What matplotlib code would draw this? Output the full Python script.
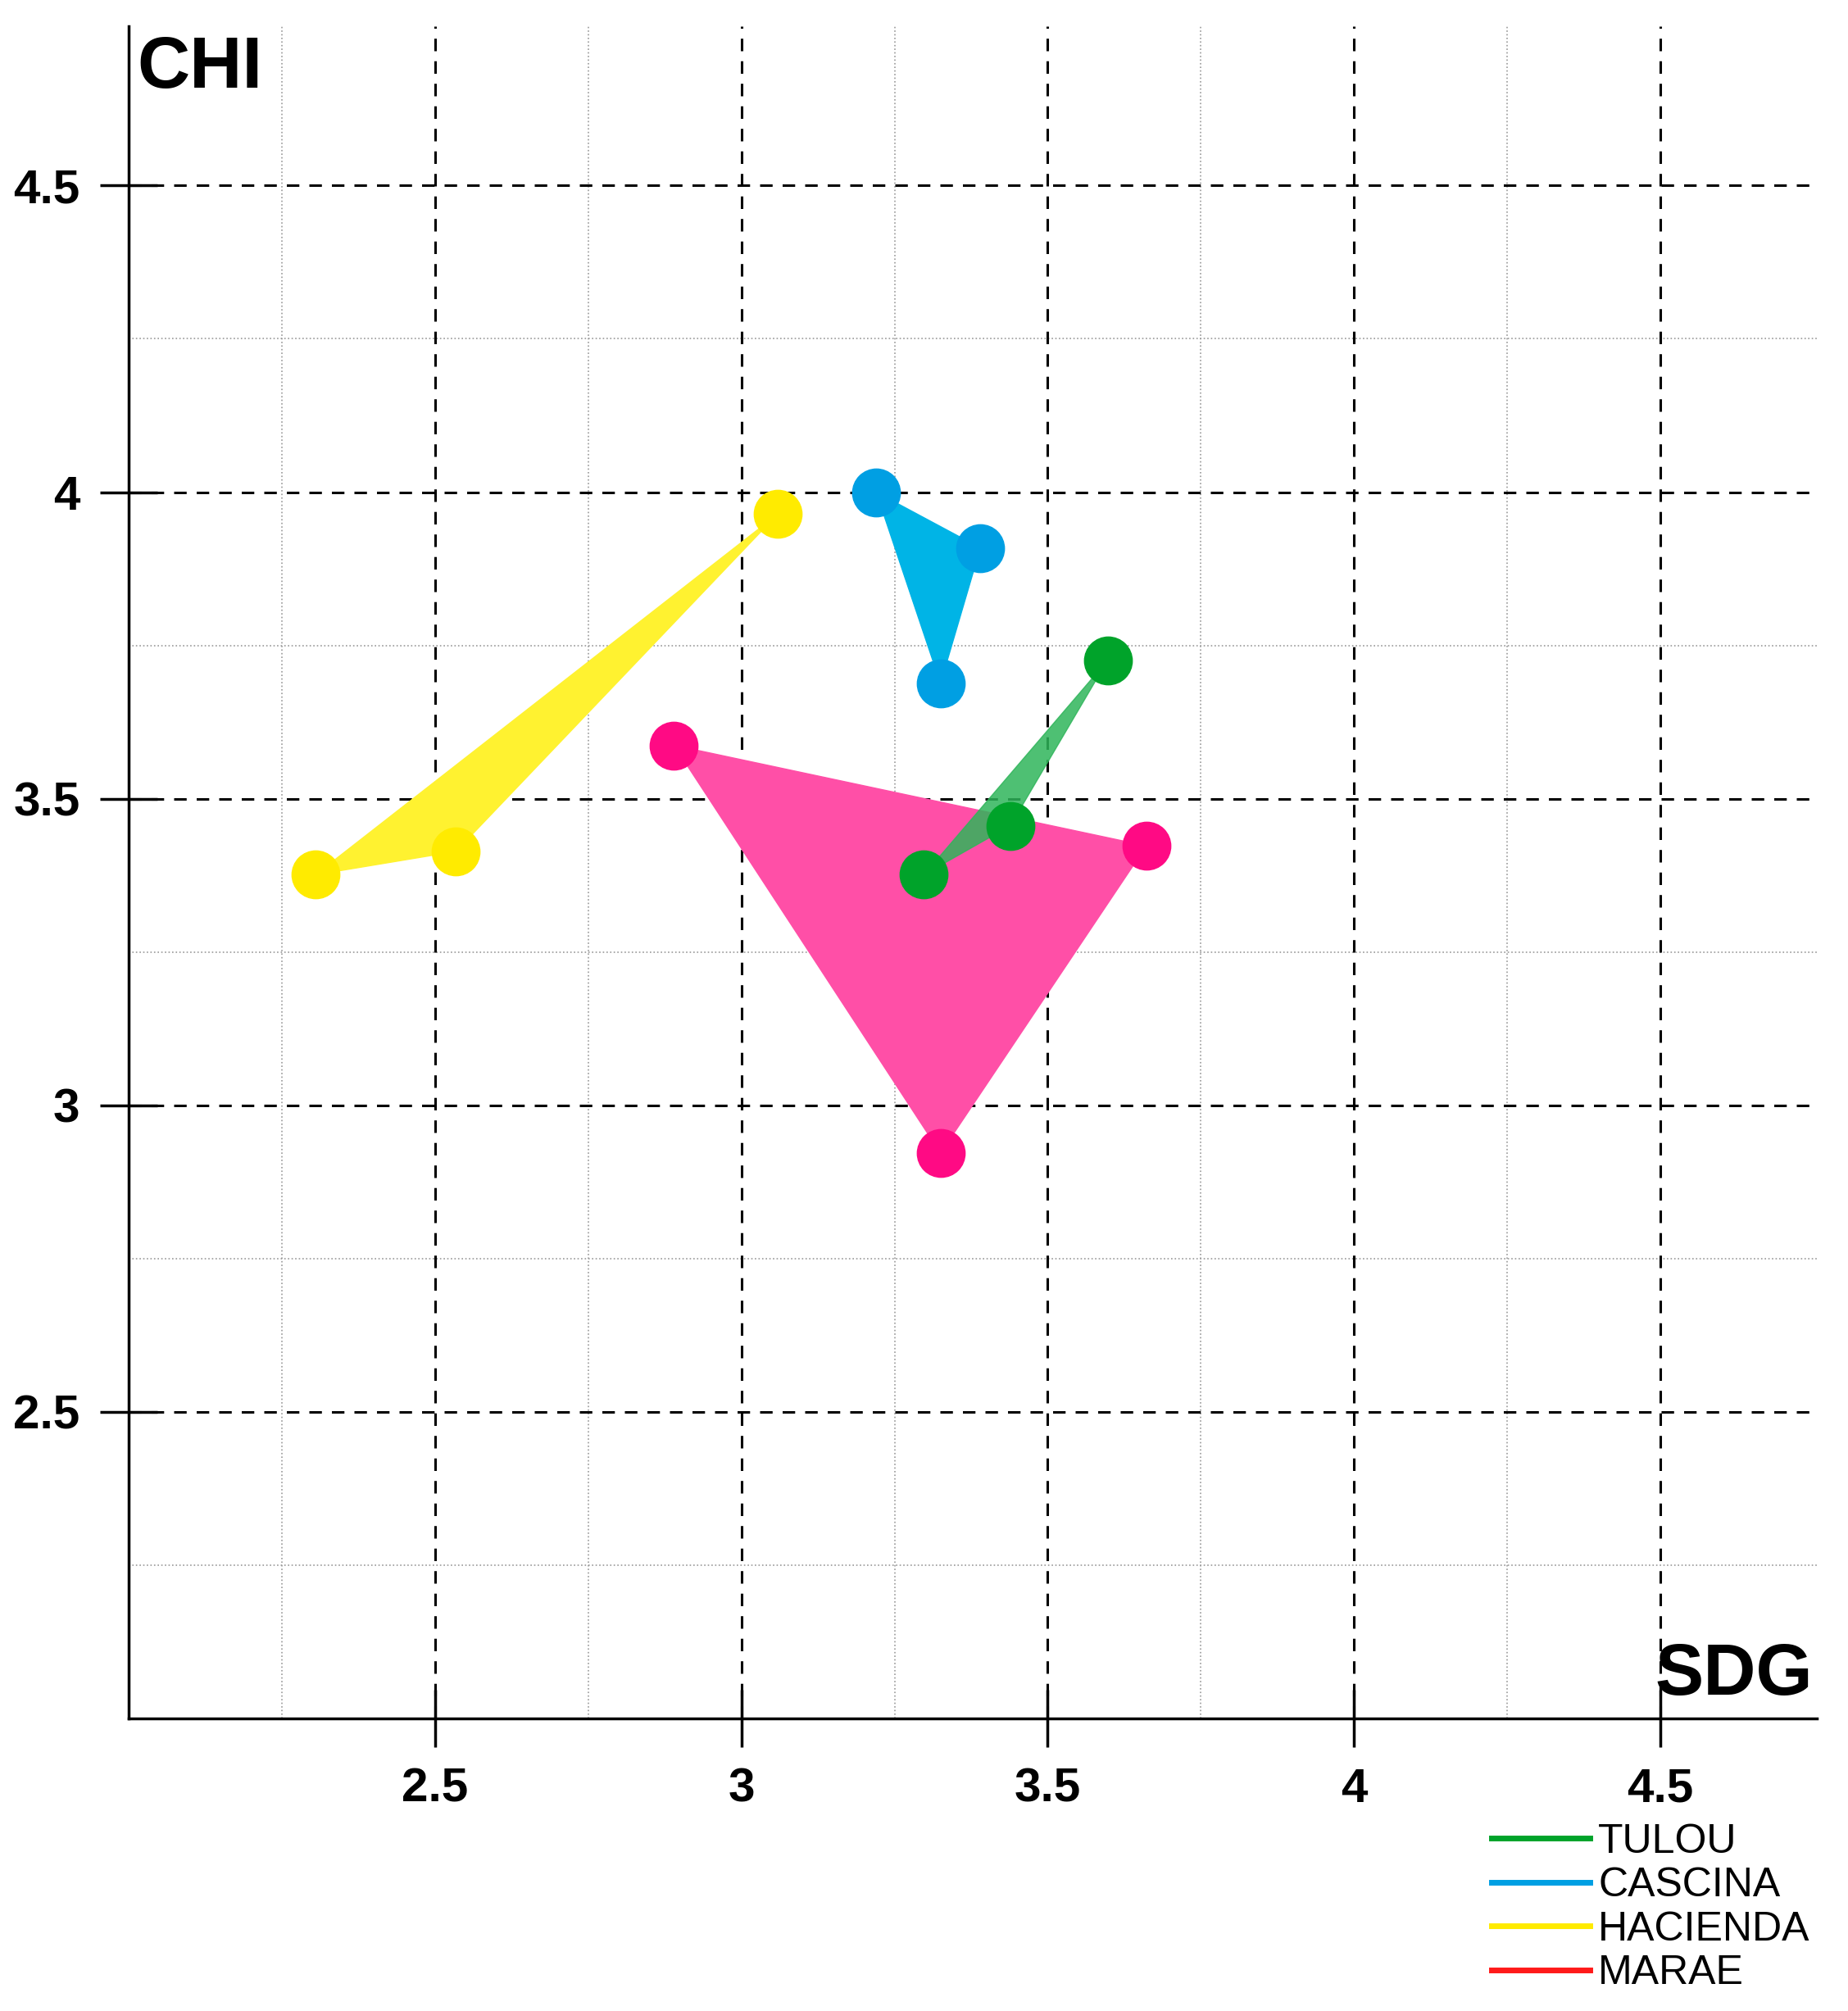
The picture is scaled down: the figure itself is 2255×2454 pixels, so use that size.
import matplotlib
matplotlib.use("Agg")
import matplotlib.pyplot as plt
from matplotlib.lines import Line2D

plt.rcParams['font.family'] = ['Liberation Sans', 'DejaVu Sans']

# Data (SDG, CHI)
tulou_sdg = [3.598, 3.439, 3.298]
tulou_chi = [3.726, 3.456, 3.376]
cascina_sdg = [3.22, 3.39, 3.325]
cascina_chi = [4.0, 3.909, 3.688]
hacienda_sdg = [2.305, 2.534, 3.059]
hacienda_chi = [3.376, 3.414, 3.964]
marae_sdg = [2.89, 3.661, 3.325]
marae_chi = [3.587, 3.423, 2.922]

major_ticks = [2.5, 3, 3.5, 4, 4.5]
minor_ticks = [2.25, 2.75, 3.25, 3.75, 4.25]
tick_labels = ["2.5", "3", "3.5", "4", "4.5"]

fig = plt.figure(figsize=(22.55, 24.54), dpi=100)
ax = fig.add_axes([0.0697, 0.1455, 0.9133, 0.8415])
ax.set_xlim(2.0, 4.755)
ax.set_ylim(2.0, 4.76)

# grid
for v in minor_ticks:
    ax.axvline(v, color="#999999", lw=1.2, ls=":", zorder=0)
    ax.axhline(v, color="#999999", lw=1.2, ls=":", zorder=0)
for v in major_ticks:
    ax.axvline(v, color="black", lw=2.2, ls=(0, (5, 4)), zorder=0.5)
    ax.axhline(v, color="black", lw=2.2, ls=(0, (5, 4)), zorder=0.5)

# polygons
ax.fill(marae_sdg, marae_chi, color="#ff4fa7", zorder=1)
ax.fill(hacienda_sdg, hacienda_chi, color="#fff230", zorder=1)
ax.fill(cascina_sdg, cascina_chi, color="#00b4e6", zorder=1)
ax.fill(tulou_sdg, tulou_chi, color="#2fb55a", alpha=0.85, zorder=2)

ms = 42
ax.plot(marae_sdg, marae_chi, "o", ls="none", color="#ff0a84", ms=ms, zorder=3)
ax.plot(hacienda_sdg, hacienda_chi, "o", ls="none", color="#ffeb00", ms=ms, zorder=3)
ax.plot(cascina_sdg, cascina_chi, "o", ls="none", color="#009fe3", ms=ms, zorder=3)
ax.plot(tulou_sdg, tulou_chi, "o", ls="none", color="#00a32a", ms=ms, zorder=3)

for s in ["top", "right"]:
    ax.spines[s].set_visible(False)
ax.spines["left"].set_linewidth(2.5)
ax.spines["bottom"].set_linewidth(2.5)

ax.set_xticks(major_ticks)
ax.set_xticklabels(tick_labels)
ax.set_yticks(major_ticks)
ax.set_yticklabels(tick_labels)
ax.tick_params(axis="both", direction="inout", length=50, width=2.5,
               labelsize=42, pad=18)
for lab in ax.get_xticklabels() + ax.get_yticklabels():
    lab.set_fontweight("bold")

ax.text(0.005, 0.995, "CHI", transform=ax.transAxes, fontsize=64,
        fontweight="bold", ha="left", va="top")
ax.text(0.998, 0.005, "SDG", transform=ax.transAxes, fontsize=64,
        fontweight="bold", ha="right", va="bottom")

handles = [Line2D([], [], color=c, lw=5) for c in
           ["#00a32a", "#009fe3", "#ffeb00", "#ff1a1a"]]
fig.legend(handles, ["TULOU", "CASCINA", "HACIENDA", "MARAE"],
           loc="lower right", bbox_to_anchor=(0.995, -0.005), frameon=False,
           fontsize=36, handlelength=2.4, handletextpad=0.2,
           labelspacing=0.15, borderpad=0.2)

fig.savefig("out.png", dpi=100)
